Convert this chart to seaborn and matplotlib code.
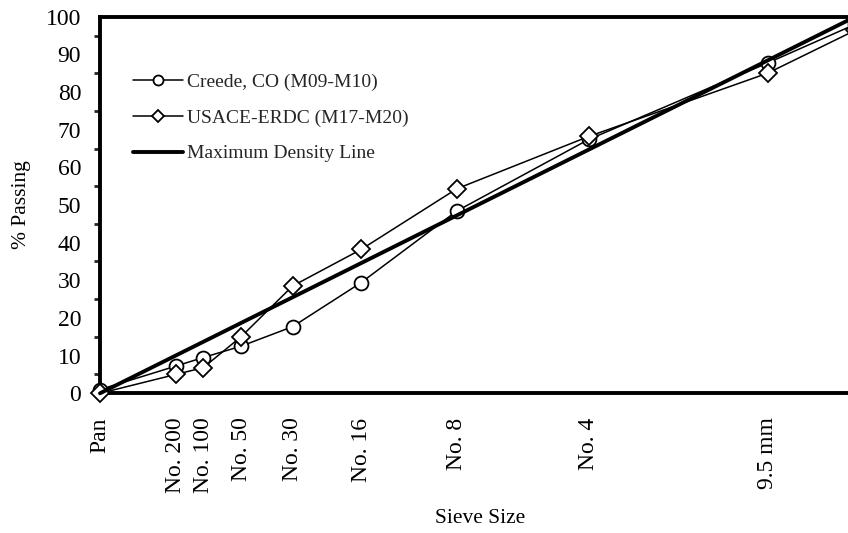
import numpy as np
import pandas as pd
import matplotlib
matplotlib.use("Agg")
import matplotlib.pyplot as plt
import seaborn as sns
from matplotlib.ticker import MultipleLocator

# Sieve openings (mm) and their labels; x axis uses the 0.45 power scale
sieve_mm = [0.0, 0.075, 0.15, 0.3, 0.6, 1.18, 2.36, 4.75, 9.5, 12.5]
sieve_labels = ["Pan", "No. 200", "No. 100", "No. 50", "No. 30", "No. 16",
                "No. 8", "No. 4", "9.5 mm", "12.5 mm"]

# Percent passing for each gradation
creede_passing = [1.0, 7.2, 9.5, 12.5, 17.7, 29.4, 48.4, 67.4, 87.7, 98.0]
usace_passing = [0.0, 5.0, 6.8, 15.0, 28.5, 38.2, 54.3, 68.2, 85.0, 96.4]

# Maximum density line: origin to 100 % at the nominal maximum size
mdl_sieve_mm = [0.0, 12.5]
mdl_passing = [0.0, 100.0]

POWER = 0.45

sns.set_style("white")
plt.rcParams["font.family"] = ["Liberation Serif", "DejaVu Serif"]

fig = plt.figure(figsize=(8.48, 5.33), dpi=100)
W, H = 848, 533
x_left, y_bottom, y_top = 100, 393.3, 16.7
ax = fig.add_axes([x_left / W, 1 - y_bottom / H, 1 - x_left / W, (y_bottom - y_top) / H])

df = pd.DataFrame({
    "size": np.power(sieve_mm, POWER),
    "creede": creede_passing,
    "usace": usace_passing,
})
mdl = pd.DataFrame({"size": np.power(mdl_sieve_mm, POWER), "passing": mdl_passing})

common = dict(ax=ax, sort=False, color="black", clip_on=False)
sns.lineplot(data=df, x="size", y="creede", linewidth=1.1, marker="o",
             markersize=10, markerfacecolor="white", markeredgecolor="black",
             markeredgewidth=1.3, label="Creede, CO (M09-M10)", zorder=3, **common)
sns.lineplot(data=df, x="size", y="usace", linewidth=1.1, marker="D",
             markersize=9, markerfacecolor="white", markeredgecolor="black",
             markeredgewidth=1.3, label="USACE-ERDC (M17-M20)", zorder=4, **common)
sns.lineplot(data=mdl, x="size", y="passing", linewidth=2.8,
             label="Maximum Density Line", zorder=5, **common)

ax.set_xticks(np.power(sieve_mm, POWER))
ax.set_xticklabels(sieve_labels, rotation=90)
ax.yaxis.set_major_locator(MultipleLocator(10))
ax.yaxis.set_minor_locator(MultipleLocator(5))

# plot area runs past the right edge of the saved figure
ax.set_xlim(0, (W - x_left) / 242.4)
ax.set_ylim(0, 100)

ax.tick_params(axis="y", which="major", direction="inout", length=9, width=2,
               labelsize=17, pad=9, colors="black")
ax.tick_params(axis="y", which="minor", direction="out", length=4, width=2,
               left=True)
ax.tick_params(axis="x", which="major", direction="inout", length=9, width=2,
               labelsize=17, pad=13, colors="black")

for side in ("left", "bottom", "top"):
    ax.spines[side].set_visible(True)
    ax.spines[side].set_linewidth(2.8)
    ax.spines[side].set_color("black")
ax.spines["right"].set_visible(False)

ax.set_xlabel("Sieve Size", fontsize=15.5, color="black")
ax.set_ylabel("% Passing", fontsize=15.5, color="black")
ax.xaxis.set_label_coords((480 - x_left) / (W - x_left), -(509 - y_bottom) / (y_bottom - y_top))
ax.yaxis.set_label_coords(-(x_left - 31) / (W - x_left), 0.5)

ax.legend(loc="upper left", bbox_to_anchor=(0.044, 0.85), frameon=False,
          fontsize=14, handlelength=2.6, handletextpad=0.2, labelspacing=0.93,
          markerscale=0.72, borderaxespad=0, borderpad=0)

fig.savefig("out.png", dpi=100)
